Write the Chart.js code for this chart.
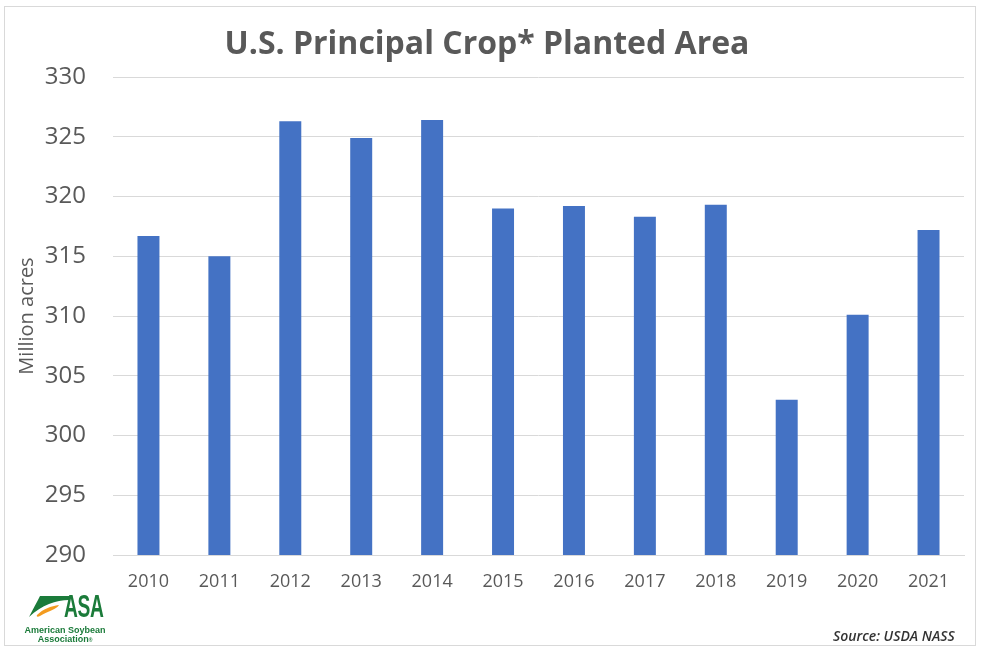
<!DOCTYPE html>
<html>
<head>
<meta charset="utf-8">
<script src="https://cdn.jsdelivr.net/npm/chart.js@4"></script>
<style>
  html, body { margin: 0; padding: 0; background: #ffffff; }
  #wrap { position: relative; width: 981px; height: 649px; overflow: hidden; }
  #frame { position: absolute; left: 4px; top: 6px; width: 972px; height: 640px; border: 1px solid #d9d9d9; box-sizing: border-box; pointer-events: none; }
  canvas { position: absolute; left: 0; top: 0; }
  #source { position: absolute; left: 833px; top: 626px; font: italic 600 14px "Open Sans", sans-serif; color: #333333; white-space: nowrap; }
  .logo { position: absolute; color: #1b7b3a; white-space: nowrap; }
  #asa { left: 64px; top: 591px; font: bold 31px/31px "Liberation Sans", Arial, sans-serif; transform: scaleX(0.62); transform-origin: left top; letter-spacing: -0.5px; }
  #sub1 { left: 22px; top: 626px; width: 86px; text-align: center; font: bold 9px/9px "Liberation Sans Narrow", "Liberation Sans", sans-serif; }
  #sub2 { left: 22px; top: 635px; width: 86px; text-align: center; font: bold 9px/9px "Liberation Sans Narrow", "Liberation Sans", sans-serif; }
  #mark { position: absolute; left: 26px; top: 594px; }
</style>
</head>
<body>
<div id="wrap">
  <canvas id="c" width="981" height="649"></canvas>
  <div id="frame"></div>
  <svg id="mark" width="46" height="26" viewBox="0 0 46 26">
    <path d="M3 23 C7 15, 11 8, 14 2 L43 2 L43 6 C30 6, 16 11, 3 23 Z" fill="#1b7b3a"/>
    <path d="M11 21 C17 15, 25 12, 33 11 C31 15, 22 17, 14 22 C12 23, 10 23, 11 21 Z" fill="#f39b1f"/>
  </svg>
  <div id="asa" class="logo">ASA</div>
  <div id="sub1" class="logo">American Soybean</div>
  <div id="sub2" class="logo">Association<span style="font-size:5px">®</span></div>
  <div id="source">Source: USDA NASS</div>
</div>
<script>
const categories = ["2010","2011","2012","2013","2014","2015","2016","2017","2018","2019","2020","2021"];
const plantedArea = [316.7, 315.0, 326.3, 324.9, 326.4, 319.0, 319.2, 318.3, 319.3, 303.0, 310.1, 317.2];
const yMin = 290, yMax = 330, yStep = 5;
const titleText = "U.S. Principal Crop* Planted Area";
const yAxisTitle = "Million acres";

const grey = "#595959";
const gridColor = "#d9d9d9";

new Chart(document.getElementById("c"), {
  type: "bar",
  data: {
    labels: categories,
    datasets: [{
      data: plantedArea,
      backgroundColor: "#4472c4",
      borderWidth: 0,
      barPercentage: 0.31,
      categoryPercentage: 1.0
    }]
  },
  options: {
    responsive: false,
    animation: false,
    devicePixelRatio: 1,
    layout: { autoPadding: false, padding: { left: 10, right: 17, top: 0, bottom: 54 } },
    plugins: {
      legend: { display: false },
      tooltip: { enabled: false },
      title: {
        display: true,
        text: titleText,
        color: grey,
        font: { family: "'Open Sans', sans-serif", size: 32, weight: "bold", lineHeight: 1.2 },
        padding: { top: 26, bottom: 12.6 }
      }
    },
    scales: {
      x: {
        grid: { display: false, drawTicks: false },
        border: { display: true, color: gridColor, width: 1 },
        ticks: { color: grey, font: { family: "'Open Sans', sans-serif", size: 18 }, padding: 16, maxRotation: 0 },
        afterFit: s => { s.height = 40; }
      },
      y: {
        min: yMin, max: yMax,
        ticks: { stepSize: yStep, color: grey, font: { family: "'Open Sans', sans-serif", size: 24 }, padding: 27 },
        grid: { color: gridColor, lineWidth: 1, drawTicks: false },
        border: { display: false },
        title: { display: true, text: yAxisTitle, color: grey, font: { family: "'Open Sans', sans-serif", size: 20 }, padding: { top: 5, bottom: 0 } },
        afterFit: s => { s.width = 103; }
      }
    }
  }
});
</script>
</body>
</html>
